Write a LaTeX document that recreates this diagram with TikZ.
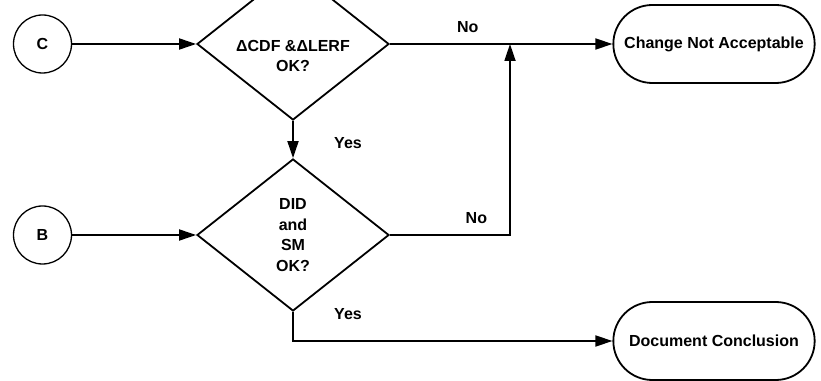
\documentclass[tikz,border=0pt]{standalone}
\usepackage{fontspec}
\setmainfont{Liberation Sans}
\usetikzlibrary{shapes.geometric,shapes.misc,arrows.meta}

\begin{document}
\begin{tikzpicture}[x=1pt,y=1pt,
        every node/.style={font=\bfseries\fontsize{16}{20.5}\selectfont},
        conn/.style={draw,circle,minimum size=58pt,inner sep=0pt,line width=1.3pt},
        decision/.style={draw,diamond,minimum width=192pt,minimum height=152pt,inner sep=0pt,line width=1.8pt},
        terminal/.style={draw,rounded rectangle,minimum width=208pt,minimum height=78pt,line width=1.8pt},
        flow/.style={line width=1.8pt,-{Triangle[length=17pt,width=11pt]}}]
        \useasboundingbox (0,0) rectangle (821,380);

        % connectors and checks
        \node[conn] (c) at (42.5,336) {C};
        \node[conn] (b) at (42.5,145) {B};
        \node[decision, label={[yshift=-12pt,align=center]center:{ΔCDF \&ΔLERF\\OK?}}] (risk) at (293,336) {};
        \node[decision, align=center] (did) at (293,145) {DID\\and\\SM\\OK?};

        % end states
        \node[terminal] (reject) at (714,336) {Change Not Acceptable};
        \node[terminal] (concl) at (714,39) {Document Conclusion};
        \coordinate (join) at (510,336);

        \draw[flow] (c)--(risk.west);
        \draw[flow] (b)--(did.west);
        \draw[flow] (risk.east)--node[pos=0.35,above=7pt]{No}(reject.west);
        \draw[flow] (risk.south)--node[right=37pt,yshift=-4pt]{Yes}(did.north);
        \draw[flow] (did.east)-|node[pos=0.36,above=7pt]{No}(join);
        \draw[flow] (did.south)|-node[pos=0.04,right=37pt]{Yes}(concl.west);
\end{tikzpicture}
\end{document}
